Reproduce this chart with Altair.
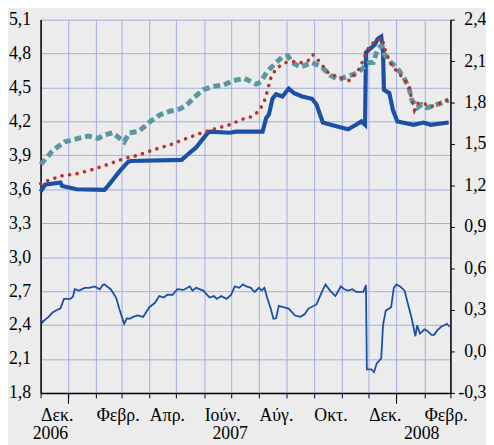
import altair as alt
import pandas as pd

# ---- data ----
solid_dates = ["2006-12-01", "2006-12-06", "2006-12-23", "2006-12-25", "2007-01-10", "2007-02-10",
               "2007-02-14", "2007-02-27", "2007-03-08", "2007-03-11", "2007-05-07", "2007-05-14",
               "2007-05-23", "2007-05-29", "2007-06-04", "2007-06-07", "2007-06-29", "2007-07-07",
               "2007-08-05", "2007-08-09", "2007-08-12", "2007-08-16", "2007-08-20", "2007-08-27",
               "2007-09-03", "2007-09-09", "2007-09-18", "2007-09-29", "2007-10-04", "2007-10-11",
               "2007-10-25", "2007-11-08", "2007-11-17", "2007-11-23", "2007-11-27", "2007-11-28",
               "2007-12-08", "2007-12-11", "2007-12-15", "2007-12-17", "2007-12-18", "2007-12-24",
               "2007-12-28", "2008-01-02", "2008-01-20", "2008-01-31", "2008-02-08", "2008-02-28"]
solid_vals = [3.58, 3.64, 3.66, 3.63, 3.60, 3.595,
              3.63, 3.76, 3.84, 3.85, 3.86, 3.91,
              3.97, 4.03, 4.09, 4.11, 4.10, 4.11,
              4.11, 4.23, 4.26, 4.40, 4.44, 4.42,
              4.49, 4.45, 4.42, 4.40, 4.35, 4.19,
              4.16, 4.13, 4.17, 4.20, 4.17, 4.81,
              4.88, 4.93, 4.95, 4.81, 4.48, 4.45,
              4.30, 4.20, 4.17, 4.19, 4.17, 4.19]

red_dates = ["2006-12-01", "2006-12-10", "2006-12-25", "2007-01-12", "2007-01-30", "2007-02-14",
             "2007-03-03", "2007-03-19", "2007-04-06", "2007-04-23", "2007-05-09", "2007-05-26",
             "2007-06-11", "2007-06-29", "2007-07-14", "2007-07-23", "2007-08-01", "2007-08-07",
             "2007-08-10", "2007-08-14", "2007-08-20", "2007-08-31", "2007-09-09", "2007-09-18",
             "2007-09-25", "2007-09-30", "2007-10-06", "2007-10-17", "2007-10-28", "2007-11-10",
             "2007-11-21", "2007-11-28", "2007-12-02", "2007-12-09", "2007-12-15", "2007-12-18",
             "2007-12-20", "2007-12-27", "2008-01-02", "2008-01-11", "2008-01-15", "2008-01-18",
             "2008-01-21", "2008-01-25", "2008-01-31", "2008-02-08", "2008-02-18", "2008-02-27"]
red_vals = [3.65, 3.68, 3.72, 3.74, 3.78, 3.82,
            3.87, 3.90, 3.95, 3.99, 4.04, 4.09,
            4.13, 4.17, 4.22, 4.24, 4.29, 4.38,
            4.46, 4.58, 4.67, 4.72, 4.73, 4.72,
            4.74, 4.79, 4.74, 4.63, 4.59, 4.56,
            4.67, 4.80, 4.87, 4.91, 4.94, 4.88,
            4.81, 4.69, 4.64, 4.56, 4.50, 4.39,
            4.30, 4.36, 4.36, 4.33, 4.36, 4.39]

teal_dates = ["2006-12-01", "2006-12-08", "2006-12-14", "2006-12-21", "2006-12-28", "2007-01-12",
              "2007-01-23", "2007-02-03", "2007-02-10", "2007-02-19", "2007-02-27", "2007-03-04",
              "2007-03-10", "2007-03-19", "2007-03-26", "2007-04-02", "2007-04-13", "2007-04-24",
              "2007-05-05", "2007-05-13", "2007-05-22", "2007-05-31", "2007-06-11", "2007-06-22",
              "2007-07-03", "2007-07-16", "2007-07-29", "2007-08-03", "2007-08-10", "2007-08-20",
              "2007-08-27", "2007-09-02", "2007-09-07", "2007-09-16", "2007-09-29", "2007-10-10",
              "2007-10-19", "2007-10-28", "2007-11-08", "2007-11-19", "2007-11-27", "2007-12-02",
              "2007-12-06", "2007-12-11", "2007-12-15", "2007-12-18", "2007-12-26", "2008-01-02",
              "2008-01-09", "2008-01-15", "2008-01-18", "2008-01-24", "2008-01-29", "2008-02-04",
              "2008-02-11", "2008-02-19", "2008-02-28"]
teal_vals = [3.82, 3.88, 3.94, 3.98, 4.02, 4.05,
             4.07, 4.05, 4.08, 4.10, 4.05, 4.02,
             4.10, 4.11, 4.15, 4.20, 4.26, 4.29,
             4.31, 4.35, 4.42, 4.48, 4.51, 4.52,
             4.56, 4.58, 4.53, 4.55, 4.64, 4.72,
             4.77, 4.78, 4.72, 4.68, 4.72, 4.68,
             4.61, 4.57, 4.60, 4.63, 4.69, 4.72,
             4.72, 4.84, 4.87, 4.80, 4.72, 4.67,
             4.59, 4.49, 4.39, 4.32, 4.35, 4.32,
             4.34, 4.36, 4.39]

spread_dates = ["2006-12-01", "2006-12-03", "2006-12-06", "2006-12-10", "2006-12-14", "2006-12-19",
                "2006-12-23", "2006-12-27", "2007-01-03", "2007-01-06", "2007-01-08", "2007-01-13",
                "2007-01-19", "2007-01-24", "2007-01-30", "2007-02-05", "2007-02-08", "2007-02-10",
                "2007-02-13", "2007-02-17", "2007-02-23", "2007-02-27", "2007-03-04", "2007-03-07",
                "2007-03-10", "2007-03-14", "2007-03-19", "2007-03-25", "2007-04-01", "2007-04-07",
                "2007-04-12", "2007-04-17", "2007-04-21", "2007-04-27", "2007-05-02", "2007-05-09",
                "2007-05-16", "2007-05-19", "2007-05-23", "2007-05-31", "2007-06-07", "2007-06-12",
                "2007-06-15", "2007-06-20", "2007-06-26", "2007-07-01", "2007-07-05", "2007-07-10",
                "2007-07-14", "2007-07-18", "2007-07-23", "2007-07-27", "2007-08-01", "2007-08-04",
                "2007-08-07", "2007-08-10", "2007-08-14", "2007-08-17", "2007-08-20", "2007-08-23",
                "2007-08-28", "2007-09-03", "2007-09-10", "2007-09-16", "2007-09-21", "2007-09-25",
                "2007-10-04", "2007-10-10", "2007-10-14", "2007-10-19", "2007-10-25", "2007-10-31",
                "2007-11-04", "2007-11-08", "2007-11-13", "2007-11-17", "2007-11-25", "2007-11-28",
                "2007-11-29", "2007-12-04", "2007-12-07", "2007-12-10", "2007-12-15", "2007-12-17",
                "2007-12-20", "2007-12-26", "2007-12-29", "2008-01-01", "2008-01-05", "2008-01-10",
                "2008-01-15", "2008-01-18", "2008-01-22", "2008-01-24", "2008-01-27", "2008-01-29",
                "2008-02-01", "2008-02-04", "2008-02-09", "2008-02-12", "2008-02-15", "2008-02-20",
                "2008-02-23", "2008-02-26", "2008-02-29"]
spread_vals = [0.24, 0.21, 0.23, 0.25, 0.28, 0.30,
               0.31, 0.38, 0.38, 0.395, 0.45, 0.44,
               0.46, 0.46, 0.47, 0.45, 0.48, 0.485,
               0.47, 0.45, 0.39, 0.30, 0.20, 0.24,
               0.236, 0.25, 0.26, 0.25, 0.32, 0.35,
               0.40, 0.39, 0.41, 0.41, 0.45, 0.445,
               0.47, 0.44, 0.46, 0.44, 0.39, 0.40,
               0.38, 0.40, 0.38, 0.41, 0.47, 0.46,
               0.485, 0.47, 0.46, 0.43, 0.46, 0.44,
               0.46, 0.39, 0.31, 0.236, 0.24, 0.33,
               0.32, 0.31, 0.26, 0.25, 0.27, 0.31,
               0.34, 0.43, 0.485, 0.44, 0.40, 0.47,
               0.45, 0.44, 0.45, 0.43, 0.43, 0.48,
               -0.13, -0.13, -0.15, -0.086, -0.05, 0.19,
               0.295, 0.32, 0.46, 0.485, 0.47, 0.44,
               0.31, 0.236, 0.11, 0.19, 0.13, 0.14,
               0.16, 0.15, 0.12, 0.12, 0.15, 0.18,
               0.19, 0.20, 0.18]

left_ticks = [1.8, 2.1, 2.4, 2.7, 3.0, 3.3, 3.6, 3.9, 4.2, 4.5, 4.8, 5.1]
right_ticks = [-0.3, 0.0, 0.3, 0.6, 0.9, 1.2, 1.5, 1.8, 2.1, 2.4]
month_names = ["Ιαν.", "Φεβρ.", "Μαρ.", "Απρ.", "Μάιος", "Ιούν.", "Ιούλ.", "Αύγ.", "Σεπτ.", "Οκτ.", "Νοέμ.", "Δεκ."]
year_labels = ["2006", "2007", "2008"]
year_label_dates = ["2006-12-12", "2007-06-30", "2008-01-29"]
year_tick_dates = ["2007-01-01", "2008-01-01"]

W, H = 415, 378
BLUE = "#1a50a5"
RED = "#b5352b"
TEAL = "#5b97a1"
GRID = "#a3abe6"
FONT = "Liberation Serif"

solid_df = pd.DataFrame({"date": solid_dates, "v": solid_vals})
red_df = pd.DataFrame({"date": red_dates, "v": red_vals})
teal_df = pd.DataFrame({"date": teal_dates, "v": teal_vals})
spread_df = pd.DataFrame({"date": spread_dates, "v": spread_vals})
years_df = pd.DataFrame({"date": year_label_dates, "label": year_labels})
yticks_df = pd.DataFrame({"date": year_tick_dates})

month_vals = []
for y, m in [(2006, 12)] + [(2007, i) for i in range(1, 13)] + [(2008, 1), (2008, 2), (2008, 3)]:
    month_vals.append(alt.DateTime(year=y, month=m, date=1, utc=True))

names_js = "[" + ",".join("'%s'" % n for n in month_names) + "]"
x_label_expr = "utcmonth(datum.value) % 2 == 1 ? " + names_js + "[utcmonth(datum.value)] : ''"

xscale = alt.Scale(type="utc", domain=[alt.DateTime(year=2006, month=12, date=1, utc=True),
                                        alt.DateTime(year=2008, month=3, date=1, utc=True)], nice=False)
xaxis = alt.Axis(values=month_vals, labelExpr=x_label_expr, title=None, grid=True, gridColor=GRID,
                 gridOpacity=1, gridWidth=1, tickSize=5, tickColor="black", labelAlign="left",
                 labelBaseline="middle", labelPadding=18, labelOverlap=False, domainColor="black",
                 domainWidth=1.5, labelFlush=False, labelFont=FONT, labelFontSize=18)
X = alt.X("date:T", scale=xscale, axis=xaxis)

fmt = "replace(replace(format(datum.value, '.1f'), '.', ','), '\u2212', '-')"
left_scale = alt.Scale(domain=[1.8, 5.1], nice=False, zero=False)
left_axis = alt.Axis(values=left_ticks, labelExpr=fmt, title=None, grid=True, gridColor=GRID,
                     gridOpacity=1, ticks=False, tickSize=0, labelPadding=10, domainColor="black",
                     domainWidth=1.5, orient="left", labelFont=FONT, labelFontSize=18)
right_scale = alt.Scale(domain=[-0.3, 2.4], nice=False, zero=False)
right_axis = alt.Axis(values=right_ticks, labelExpr=fmt, title=None, grid=False, tickSize=4,
                      tickColor="black", labelPadding=32, labelAlign="right", domainColor="black",
                      domainWidth=1.5, orient="right", labelFont=FONT, labelFontSize=18)

spread = alt.Chart(spread_df).mark_line(color=BLUE, strokeWidth=1.8).encode(
    x=X, y=alt.Y("v:Q", scale=right_scale, axis=right_axis))

solid = alt.Chart(solid_df).mark_line(color=BLUE, strokeWidth=4.2).encode(
    x=X, y=alt.Y("v:Q", scale=left_scale, axis=left_axis))
teal = alt.Chart(teal_df).mark_line(color=TEAL, strokeWidth=5, strokeDash=[7, 4]).encode(
    x=X, y=alt.Y("v:Q", scale=left_scale, axis=left_axis))
red = alt.Chart(red_df).mark_line(color=RED, strokeWidth=3.6, strokeDash=[0.1, 7.6],
                                  strokeCap="round").encode(
    x=X, y=alt.Y("v:Q", scale=left_scale, axis=left_axis))
year_ticks = alt.Chart(yticks_df).mark_rule(color="black", strokeWidth=1).encode(
    x=X, y=alt.value(H), y2=alt.value(H + 11))
year_text = alt.Chart(years_df).mark_text(font=FONT, fontSize=18, color="black",
                                          baseline="middle", align="center").encode(
    x=X, y=alt.value(H + 42), text="label:N")

left = alt.layer(solid, teal, red, year_ticks, year_text)

chart = alt.layer(spread, left).resolve_scale(y="independent").properties(
    width=W, height=H, background="#ececec", padding=0
).configure(font=FONT).configure_view(stroke=None).configure_axis(
    labelFont=FONT, labelFontSize=18, labelColor="black"
).configure_text(font=FONT)

chart.save("out.html", embed_options={"renderer": "svg", "actions": False})
